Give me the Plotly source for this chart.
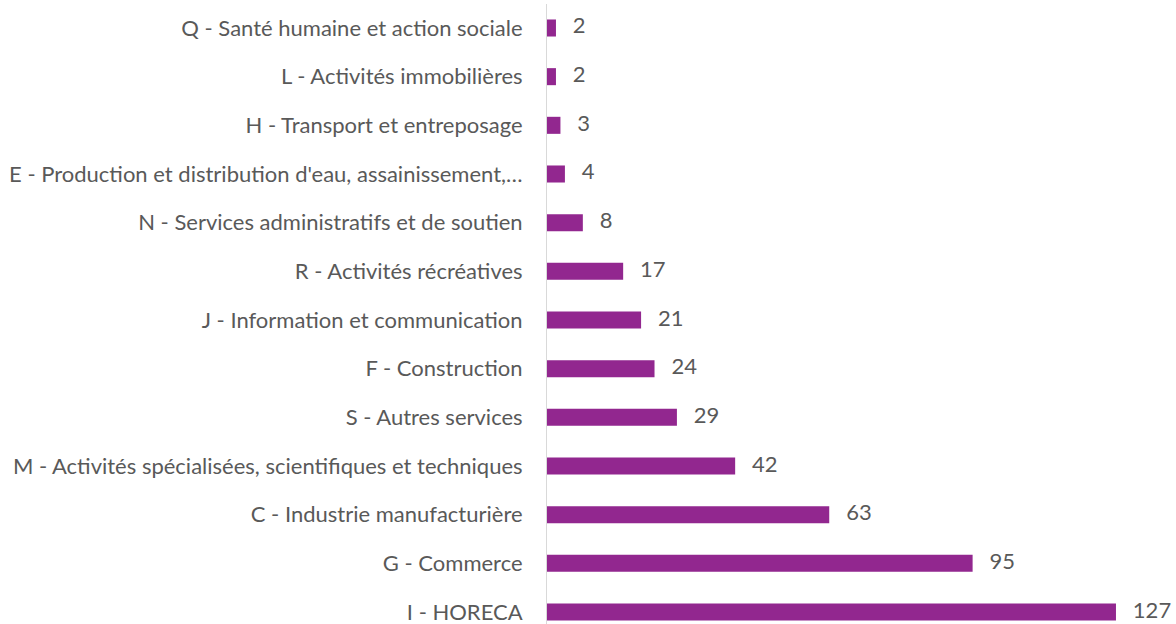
import plotly.graph_objects as go

# Categories listed bottom-to-top (Plotly draws the first category at the bottom)
categories = [
    "I - HORECA",
    "G - Commerce",
    "C - Industrie manufacturière",
    "M - Activités spécialisées, scientifiques et techniques",
    "S - Autres services",
    "F - Construction",
    "J - Information et communication",
    "R - Activités récréatives",
    "N - Services administratifs et de soutien",
    "E - Production et distribution d'eau, assainissement,…",
    "H - Transport et entreposage",
    "L - Activités immobilières",
    "Q - Santé humaine et action sociale",
]
values = [127, 95, 63, 42, 29, 24, 21, 17, 8, 4, 3, 2, 2]

BAR_COLOR = "#92278F"
TEXT_COLOR = "#595959"
FONT = "Lato"
FONT_SIZE = 22

fig = go.Figure()
fig.add_trace(go.Bar(
    y=categories,
    x=values,
    orientation="h",
    marker=dict(color=BAR_COLOR, line=dict(width=0)),
    width=0.35,
    hoverinfo="skip",
))
# Value labels placed just to the right of each bar
fig.add_trace(go.Scatter(
    y=categories,
    x=values,
    mode="text",
    text=[f"   {v}" for v in values],
    textposition="middle right",
    textfont=dict(family=FONT, size=FONT_SIZE, color=TEXT_COLOR),
    cliponaxis=False,
    hoverinfo="skip",
))

fig.update_layout(
    width=1176,
    height=624,
    margin=dict(l=547, r=0, t=4, b=0),
    paper_bgcolor="white",
    plot_bgcolor="white",
    showlegend=False,
    font=dict(family=FONT, size=FONT_SIZE, color=TEXT_COLOR),
    xaxis=dict(
        range=[0, 140.4],
        showgrid=False,
        zeroline=False,
        showticklabels=False,
        showline=False,
    ),
    yaxis=dict(
        type="category",
        categoryorder="array",
        categoryarray=categories,
        range=[-0.2466, 12.493],
        showgrid=False,
        zeroline=False,
        showline=True,
        linecolor="#D9D9D9",
        linewidth=1,
        ticks="",
        ticklabelstandoff=19,
        tickfont=dict(family=FONT, size=FONT_SIZE, color=TEXT_COLOR),
    ),
)

fig.write_html("out.html")
